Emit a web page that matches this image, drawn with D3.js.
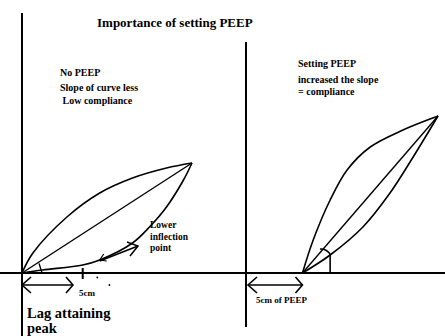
<!DOCTYPE html>
<html><head><meta charset="utf-8">
<script src="https://cdn.jsdelivr.net/npm/d3@7"></script>
<style>html,body{margin:0;padding:0;background:#fff;}svg{display:block;}</style>
</head><body>
<script>
// ---- data (pressure cmH2O, volume mL) ----
const title = "Importance of setting PEEP";
// Left panel: no PEEP
const noPeepExpP = [0, 0.9, 3.7, 6.4, 9.1, 11.9, 14];
const noPeepExpV = [0, 100, 280, 400, 475, 525, 550];
const noPeepInspP = [0, 1.7, 5.0, 6.4, 9.1, 10.5, 11.9, 13.3, 14];
const noPeepInspV = [0, 15, 40, 65, 150, 230, 330, 465, 550];
// Right panel: PEEP 5 cm
const peep = 5;
const peepExpP = [5, 5.95, 7.45, 8.95, 11.0, 13.9, 17];
const peepExpV = [0, 165, 365, 515, 630, 715, 785];
const peepInspP = [5, 7.45, 10.35, 12.75, 14.8, 17];
const peepInspV = [0, 90, 230, 400, 580, 785];
const inflection = {p: 6.4, v: 65};
const leftNotes = ["No PEEP", "Slope of curve less", "\u00a0Low compliance"];
const rightNotes = ["Setting PEEP", "increased the slope", "= compliance"];
const inflLabel = ["Lower", "inflection", "point"];
const lagLabel = ["Lag attaining", "peak"];
const tickLabel = "5cm";
const peepLabel = "5cm of PEEP";

const W = 445, H = 336;
const svg = d3.select("body").append("svg").attr("width", W).attr("height", H);

const xL = d3.scaleLinear().domain([0, 14]).range([22, 192]);
const yL = d3.scaleLinear().domain([0, 550]).range([273, 163]);
const xR = d3.scaleLinear().domain([0, 17]).range([246, 438]);
const yR = d3.scaleLinear().domain([0, 785]).range([273, 116]);

const zip = (a, b) => a.map((d, i) => [d, b[i]]);
function curve(xs, ys, P, V) {
  return d3.line().x(d => xs(d[0])).y(d => ys(d[1])).curve(d3.curveCatmullRom.alpha(0.5))(zip(P, V));
}
const g = svg.append("g").attr("fill", "none").attr("stroke", "#000");

// axes
g.append("line").attr("x1", 0).attr("x2", W).attr("y1", yL(0)).attr("y2", yL(0)).attr("stroke-width", 2);
g.append("line").attr("x1", xL(0)).attr("x2", xL(0)).attr("y1", 13).attr("y2", H).attr("stroke-width", 2);
g.append("line").attr("x1", xR(0)).attr("x2", xR(0)).attr("y1", 42).attr("y2", 327).attr("stroke-width", 2);

// left loop
g.append("path").attr("d", curve(xL, yL, noPeepExpP, noPeepExpV)).attr("stroke-width", 1.6);
g.append("path").attr("d", curve(xL, yL, noPeepInspP, noPeepInspV)).attr("stroke-width", 1.6);
g.append("line").attr("x1", xL(0)).attr("y1", yL(0)).attr("x2", xL(14)).attr("y2", yL(550)).attr("stroke-width", 1.4);
// small angle marker left
g.append("line").attr("x1", xL(1.4)).attr("y1", yL(48)).attr("x2", xL(1.65)).attr("y2", yL(0)).attr("stroke-width", 1.4);
// 5cm tick
g.append("line").attr("x1", xL(5)).attr("x2", xL(5)).attr("y1", yL(0) - 5).attr("y2", yL(0) + 6).attr("stroke-width", 2);
// stray dots
svg.append("circle").attr("cx", xL(6.2)).attr("cy", yL(-22)).attr("r", 0.9).attr("fill", "#000");
svg.append("circle").attr("cx", xL(7.2)).attr("cy", yL(-60)).attr("r", 0.9).attr("fill", "#000");

// inflection arrow
const ax0 = xL(inflection.p), ay0 = yL(inflection.v);
const ax1 = 138, ay1 = 246;
g.append("line").attr("x1", ax0).attr("y1", ay0 + 1).attr("x2", ax1).attr("y2", ay1).attr("stroke-width", 1.5);
g.append("polyline").attr("points", `${ax1-11},${ay1-4} ${ax1},${ay1} ${ax1-8},${ay1+10}`).attr("stroke-width", 1.5);
g.append("polyline").attr("points", `${ax0+4},${ay0-6} ${ax0},${ay0} ${ax0+7},${ay0+1}`).attr("stroke-width", 1.2);

// double arrows
function dblArrow(x0, x1, y) {
  g.append("line").attr("x1", x0).attr("x2", x1).attr("y1", y).attr("y2", y).attr("stroke-width", 1.6);
  g.append("polyline").attr("points", `${x0+9},${y-8} ${x0},${y} ${x0+9},${y+8}`).attr("stroke-width", 1.6);
  g.append("polyline").attr("points", `${x1-7},${y-8} ${x1},${y} ${x1-7},${y+8}`).attr("stroke-width", 1.6);
}
dblArrow(xL(0), xL(4.2), 285);

// right loop
g.append("path").attr("d", curve(xR, yR, peepExpP, peepExpV)).attr("stroke-width", 1.6);
g.append("path").attr("d", curve(xR, yR, peepInspP, peepInspV)).attr("stroke-width", 1.6);
g.append("line").attr("x1", xR(peep)).attr("y1", yR(0)).attr("x2", xR(17)).attr("y2", yR(785)).attr("stroke-width", 1.4);
// angle marker right
g.append("line").attr("x1", xR(7.45)).attr("x2", xR(7.45)).attr("y1", yR(0)).attr("y2", yR(95)).attr("stroke-width", 1.6);
g.append("path").attr("d", `M${xR(6.55)},${yR(120)} Q${xR(7.1)},${yR(122)} ${xR(7.45)},${yR(95)}`).attr("stroke-width", 1.6);
dblArrow(xR(0) + 2, xR(peep), 285);

// texts
function txt(x, y, size, s) {
  svg.append("text").attr("x", x).attr("y", y).attr("fill", "#000")
    .style("font-family", '"Liberation Serif", serif')
    .attr("font-size", size)
    .attr("font-weight", "bold").text(s);
}
txt(97, 27, 13, title);
leftNotes.forEach((s, i) => txt(60, [76, 91, 104][i], 10, s));
rightNotes.forEach((s, i) => txt(298, [67, 83, 95][i], 10, s));
inflLabel.forEach((s, i) => txt(150, [228, 240, 251][i], 9.5, s));
txt(79, 296, 9, tickLabel);
txt(256, 303, 9, peepLabel);
lagLabel.forEach((s, i) => txt(27, [318, 333][i], 14.5, s));
</script>
</body></html>
